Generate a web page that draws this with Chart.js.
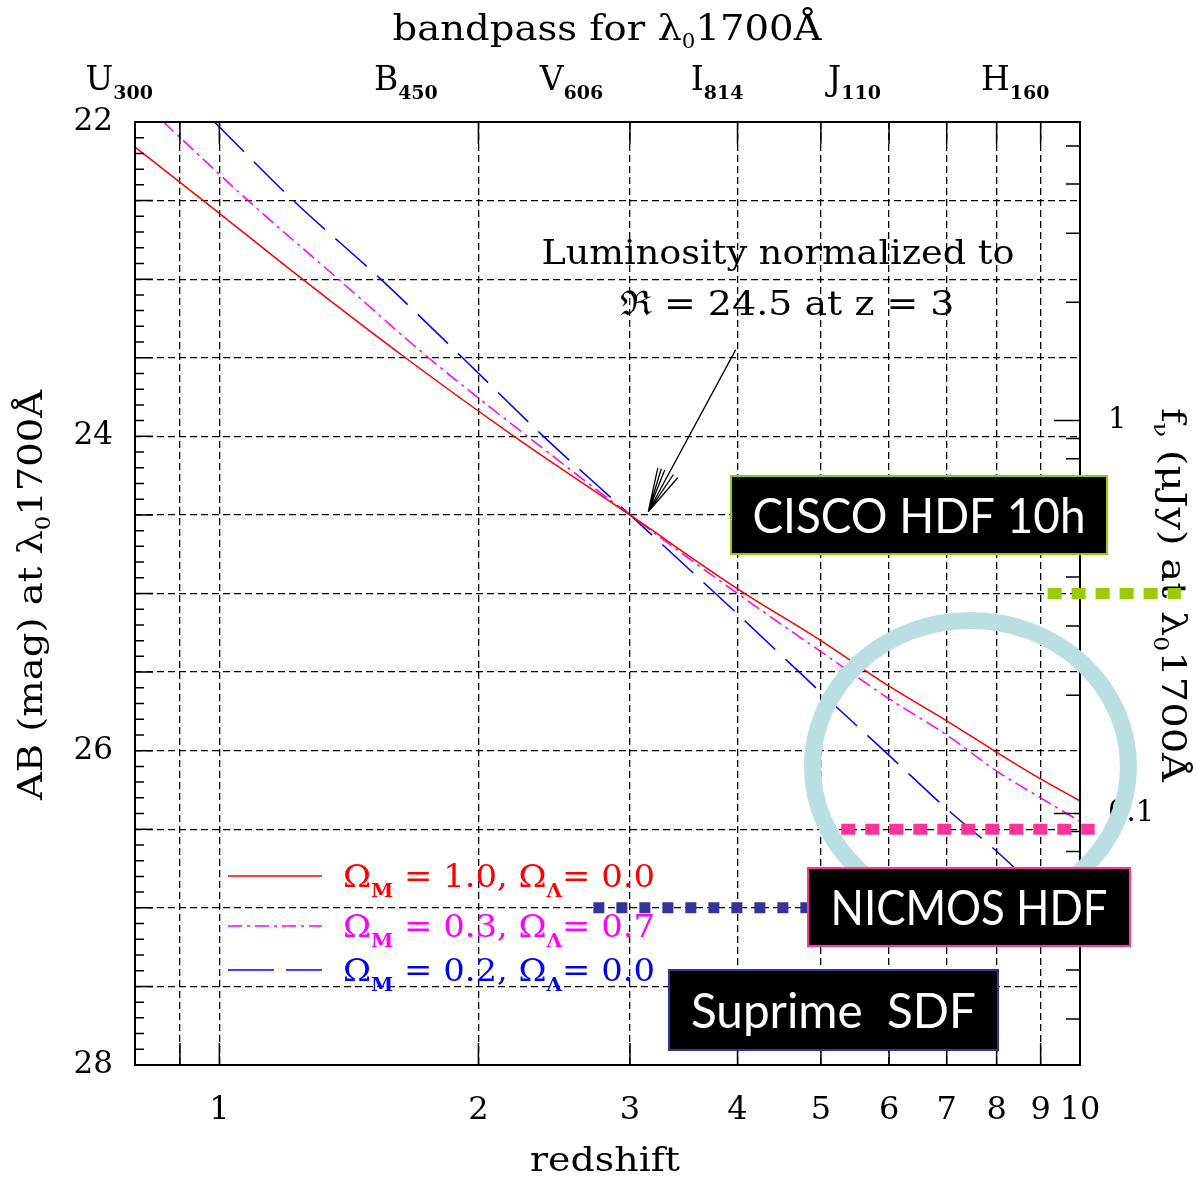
<!DOCTYPE html>
<html>
<head>
<meta charset="utf-8">
<script src="https://cdn.jsdelivr.net/npm/chart.js@4.4.0/dist/chart.umd.min.js"></script>
<style>
  html, body { margin: 0; padding: 0; background: #fff; }
  canvas { display: block; }
</style>
</head>
<body>
<canvas id="evoChart" width="1196" height="1178"></canvas>
<script>
// --- data (redshift vs AB mag at 1700A) ---
const zRed    = [0.798, 0.958, 1.249, 1.645, 2.2, 3, 4, 5, 6, 7, 8, 9, 10];
const magRed  = [22.16, 22.5, 23.0, 23.5, 24.0, 24.5, 24.97, 25.30, 25.59, 25.81, 26.01, 26.18, 26.32];
const zMag    = [0.861, 1.08, 1.375, 1.75, 2.28, 3, 4, 5, 6, 7, 8, 9, 10];
const magMag  = [22.0, 22.5, 23.0, 23.5, 24.0, 24.5, 25.0, 25.37, 25.67, 25.90, 26.13, 26.30, 26.45];
const zBlue   = [0.987, 1.219, 1.54, 1.917, 2.38, 3, 4, 5, 6, 7, 8, 9, 10];
const magBlue = [22.0, 22.5, 23.0, 23.5, 24.0, 24.5, 25.13, 25.63, 26.03, 26.37, 26.64, 26.9, 27.12];

const omegaM = ["1.0", "0.3", "0.2"];
const omegaL = ["0.0", "0.7", "0.0"];

// axes
const zGrid    = [0.9, 1, 2, 3, 4, 5, 6, 7, 8, 9, 10];
const zLabels  = [1, 2, 3, 4, 5, 6, 7, 8, 9, 10];
const magTicks = [22, 22.5, 23, 23.5, 24, 24.5, 25, 25.5, 26, 26.5, 27, 27.5, 28];
const magLabels = [22, 24, 26, 28];
const fluxTicks = [5, 4, 3, 2, 1, 0.9, 0.8, 0.7, 0.6, 0.5, 0.4, 0.3, 0.2, 0.1, 0.09, 0.08, 0.07, 0.06, 0.05, 0.04, 0.03];
const fluxLabels = [1, 0.1];

// top axis: filters and the redshift where 1700A falls in them
const filterBand = ["U", "B", "V", "I", "J", "H"];
const filterSub  = ["300", "450", "606", "814", "110", "160"];
const filterZ    = [0.765, 1.647, 2.565, 3.788, 5.47, 8.41];

// survey limits (mag) and the redshift span of their dotted lines
const limitMag   = [25.0, 26.5, 27.0];
const limitFrom  = [9.17, 5.28, 2.72];
const limitTo    = [13.1, 10.4, 5.02];
const limitColor = ["#99cc00", "#ff3399", "#333399"];

const AB_ZERO = 23.9;   // AB mag of 1 microJy
const magToFlux = m => Math.pow(10, (AB_ZERO - m) / 2.5);

const serif = '"DejaVu Serif", "Liberation Serif", serif';
const sans = 'Lato, "DejaVu Sans", sans-serif';

function pts(zs, ms) { return zs.map((z, i) => ({ x: z, y: ms[i] })); }

// draw a run of text pieces [{t, size, dy, bold}] squeezed to a width
function rich(ctx, segs, x, y, width, align, fontFam) {
  let w = 0;
  segs.forEach(s => {
    ctx.font = (s.bold ? "bold " : "") + s.size + "px " + fontFam;
    s.w = ctx.measureText(s.t).width;
    w += s.w;
  });
  const sx = width ? width / w : 1;
  ctx.save();
  ctx.translate(x, y);
  ctx.scale(sx, 1);
  let cx = align === "center" ? -w / 2 : 0;
  ctx.textAlign = "left";
  ctx.textBaseline = "alphabetic";
  segs.forEach(s => {
    ctx.font = (s.bold ? "bold " : "") + s.size + "px " + fontFam;
    ctx.fillText(s.t, cx, s.dy || 0);
    cx += s.w;
  });
  ctx.restore();
}

const decor = {
  id: "decor",
  afterDraw(chart) {
    const ctx = chart.ctx;
    const a = chart.chartArea;
    const xs = chart.scales.x, ys = chart.scales.y, fs = chart.scales.y2;
    ctx.save();

    // frame
    ctx.strokeStyle = "#000";
    ctx.lineWidth = 2;
    ctx.setLineDash([]);
    ctx.strokeRect(a.left, a.top, a.right - a.left, a.bottom - a.top);

    // ticks
    ctx.lineWidth = 1.5;
    ctx.beginPath();
    zGrid.forEach(z => {
      const px = xs.getPixelForValue(z);
      ctx.moveTo(px, a.bottom); ctx.lineTo(px, a.bottom - 22);
      ctx.moveTo(px, a.top); ctx.lineTo(px, a.top + 22);
    });
    for (let m = 22; m <= 28.001; m += 0.1) {
      const py = ys.getPixelForValue(m);
      const major = Math.abs(m * 2 - Math.round(m * 2)) < 0.01;
      const len = major ? 18 : 9;
      ctx.moveTo(a.left, py); ctx.lineTo(a.left + len, py);
    }
    fluxTicks.forEach(f => {
      const py = fs.getPixelForValue(f);
      const len = fluxLabels.includes(f) ? 26 : 14;
      ctx.moveTo(a.right, py); ctx.lineTo(a.right - len, py);
    });
    ctx.stroke();

    ctx.fillStyle = "#000";
    // top title and filter labels
    rich(ctx, [{ t: "bandpass for λ", size: 36 }, { t: "0", size: 20, dy: 8 }, { t: "1700Å", size: 36 }],
      607, 40, 429, "center", serif);
    filterBand.forEach((b, i) => {
      const px = xs.getPixelForValue(filterZ[i]);
      rich(ctx, [{ t: b, size: 33 }, { t: filterSub[i], size: 19, dy: 9, bold: true }],
        px, 90, null, "center", serif);
    });

    // bottom title
    rich(ctx, [{ t: "redshift", size: 34 }], 605, 1171, 150, "center", serif);

    // left title
    ctx.save();
    ctx.translate(42, 595);
    ctx.rotate(-Math.PI / 2);
    rich(ctx, [{ t: "AB (mag) at λ", size: 34 }, { t: "0", size: 20, dy: 8 }, { t: "1700Å", size: 34 }],
      0, 0, 410, "center", serif);
    ctx.restore();

    // right title
    ctx.save();
    ctx.translate(1162, 595);
    ctx.rotate(Math.PI / 2);
    rich(ctx, [{ t: "f", size: 34 }, { t: "ν", size: 20, dy: 8 }, { t: " (μJy) at λ", size: 34 },
      { t: "0", size: 20, dy: 8 }, { t: "1700Å", size: 34 }], 0, 0, 374, "center", serif);
    ctx.restore();

    // normalisation note and arrow
    rich(ctx, [{ t: "Luminosity normalized to", size: 34 }], 778, 264, 473, "center", serif);
    rich(ctx, [{ t: "ℜ = 24.5 at z = 3", size: 34 }], 787, 315, 335, "center", serif);
    const ax0 = xs.getPixelForValue(3.98), ay0 = ys.getPixelForValue(23.45);
    const ax1 = xs.getPixelForValue(3.15), ay1 = ys.getPixelForValue(24.48);
    ctx.lineWidth = 1.3;
    ctx.beginPath();
    ctx.moveTo(ax0, ay0); ctx.lineTo(ax1, ay1);
    const ang = Math.atan2(ay1 - ay0, ax1 - ax0);
    [-0.28, -0.2, -0.12, 0.1, 0.22].forEach(d => {
      ctx.moveTo(ax1, ay1);
      ctx.lineTo(ax1 - 45 * Math.cos(ang + d), ay1 - 45 * Math.sin(ang + d));
    });
    ctx.stroke();

    // legend
    const rowY = [876, 926, 970];
    chart.data.datasets.forEach((ds, i) => {
      ctx.strokeStyle = ds.borderColor;
      ctx.lineWidth = 1.5;
      ctx.setLineDash(i === 2 ? [46, 12] : (ds.borderDash || []));
      ctx.beginPath();
      ctx.moveTo(228, rowY[i]); ctx.lineTo(322, rowY[i]);
      ctx.stroke();
      ctx.setLineDash([]);
      ctx.fillStyle = ds.borderColor;
      rich(ctx, [{ t: "Ω", size: 32 }, { t: "M", size: 19, dy: 10, bold: true },
        { t: " = " + omegaM[i] + ", Ω", size: 32 }, { t: "Λ", size: 19, dy: 10, bold: true },
        { t: "= " + omegaL[i], size: 32 }], 343, rowY[i] + 11, 312, "left", serif);
    });

    // highlight ellipse
    ctx.strokeStyle = "#b9dfe3";
    ctx.lineWidth = 17;
    ctx.beginPath();
    ctx.ellipse(xs.getPixelForValue(7.46), ys.getPixelForValue(26.1), 158, 146, 0, 0, Math.PI * 2);
    ctx.stroke();

    // survey limit dotted lines
    limitMag.forEach((m, i) => {
      ctx.strokeStyle = limitColor[i];
      ctx.lineWidth = 11;
      ctx.setLineDash(i === 2 ? [11, 12] : [14, 10]);
      const py = ys.getPixelForValue(m);
      ctx.beginPath();
      ctx.moveTo(xs.getPixelForValue(limitFrom[i]), py);
      ctx.lineTo(xs.getPixelForValue(limitTo[i]), py);
      ctx.stroke();
    });
    ctx.setLineDash([]);

    // survey boxes
    const boxes = [
      { text: "CISCO HDF 10h", x: 731, y: 476, w: 376, h: 78, tw: 333, c: limitColor[0] },
      { text: "NICMOS HDF", x: 808, y: 868, w: 322, h: 78, tw: 277, c: limitColor[1] },
      { text: "Suprime  SDF", x: 669, y: 970, w: 329, h: 80, tw: 285, c: limitColor[2] }
    ];
    boxes.forEach(b => {
      ctx.fillStyle = "#000";
      ctx.fillRect(b.x, b.y, b.w, b.h);
      ctx.strokeStyle = b.c;
      ctx.lineWidth = 2;
      ctx.strokeRect(b.x, b.y, b.w, b.h);
      ctx.fillStyle = "#fff";
      rich(ctx, [{ t: b.text, size: 48 }], b.x + b.w / 2, b.y + b.h / 2 + 18, b.tw, "center", sans);
    });

    ctx.restore();
  }
};

const gridStyle = { color: "#000", lineWidth: 1.3, drawTicks: false };

new Chart(document.getElementById("evoChart").getContext("2d"), {
  type: "line",
  data: {
    datasets: [
      { label: "OmegaM 1.0", data: pts(zRed, magRed), borderColor: "#ff0000", borderWidth: 1.5,
        pointRadius: 0, cubicInterpolationMode: "monotone" },
      { label: "OmegaM 0.3", data: pts(zMag, magMag), borderColor: "#ff00ff", borderWidth: 1.5,
        borderDash: [14, 5, 3, 5], pointRadius: 0, cubicInterpolationMode: "monotone" },
      { label: "OmegaM 0.2", data: pts(zBlue, magBlue), borderColor: "#0000ff", borderWidth: 1.5,
        borderDash: [42, 14], pointRadius: 0, cubicInterpolationMode: "monotone" }
    ]
  },
  options: {
    responsive: false,
    animation: false,
    devicePixelRatio: 1,
    layout: { padding: 0 },
    plugins: { legend: { display: false }, tooltip: { enabled: false } },
    scales: {
      x: {
        type: "logarithmic", position: "bottom", min: 0.798, max: 10,
        afterBuildTicks: s => { s.ticks = zGrid.map(v => ({ value: v })); },
        afterFit: s => { s.height = 113; },
        grid: gridStyle,
        border: { display: false, dash: [7, 4] },
        ticks: {
          autoSkip: false, maxRotation: 0, padding: 26, color: "#000",
          font: { family: serif, size: 32 },
          callback: v => zLabels.includes(v) ? String(v) : ""
        }
      },
      x2: {
        type: "logarithmic", position: "top", min: 0.798, max: 10,
        afterFit: s => { s.height = 122; },
        grid: { display: false }, border: { display: false },
        ticks: { display: false }
      },
      y: {
        type: "linear", position: "left", reverse: true, min: 22, max: 28,
        afterBuildTicks: s => { s.ticks = magTicks.map(v => ({ value: v })); },
        afterFit: s => { s.width = 135; },
        grid: gridStyle,
        border: { display: false, dash: [7, 4] },
        ticks: {
          autoSkip: false, padding: 22, color: "#000",
          font: { family: serif, size: 31 },
          callback: v => magLabels.includes(v) ? String(v) : ""
        }
      },
      y2: {
        type: "logarithmic", position: "right", min: magToFlux(28), max: magToFlux(22),
        afterBuildTicks: s => { s.ticks = fluxTicks.map(v => ({ value: v })); },
        afterFit: s => { s.width = 116; },
        grid: { display: false }, border: { display: false },
        ticks: {
          autoSkip: false, padding: 20, color: "#000",
          font: { family: serif, size: 29 },
          callback: v => fluxLabels.includes(v) ? String(v) : ""
        }
      }
    }
  },
  plugins: [decor]
});
</script>
</body>
</html>
